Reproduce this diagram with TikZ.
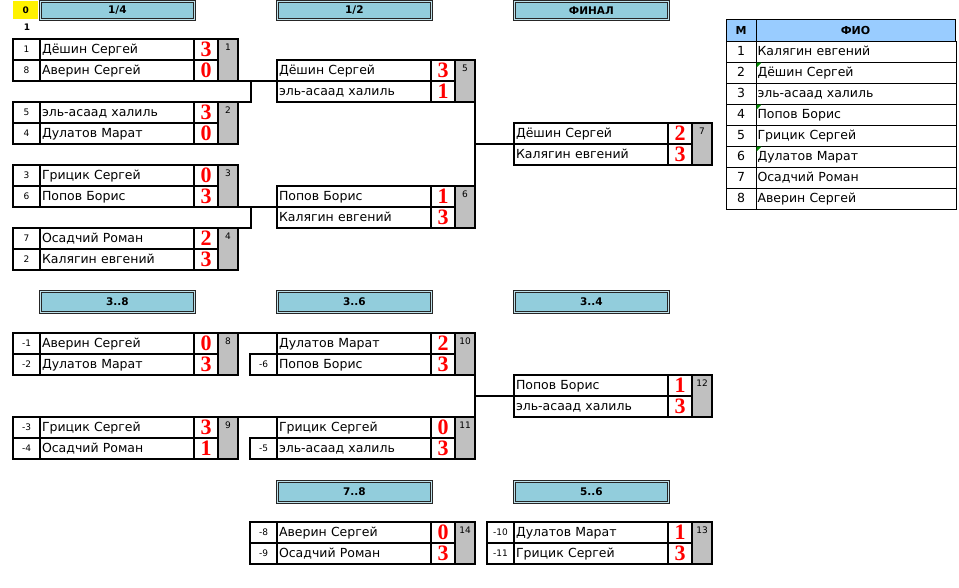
\documentclass[tikz,border=0pt]{standalone}
\usepackage{fontspec}
\setmainfont{DejaVu Sans}
\newfontfamily\scoreface{Liberation Serif}
\usetikzlibrary{calc}
\definecolor{hdr}{RGB}{146,205,220}
\definecolor{tblhdr}{RGB}{153,204,255}
\definecolor{greyc}{RGB}{192,192,192}
\definecolor{scred}{RGB}{255,0,0}
\definecolor{markg}{RGB}{0,140,0}
\tikzset{
  cellb/.style={draw, line width=2pt, inner sep=0pt, outer sep=0pt, anchor=north west, minimum height=21pt},
  seedcell/.style={cellb, fill=white, minimum width=27pt, font=\fontsize{9}{10}\selectfont},
  namecell/.style={cellb, fill=white, minimum width=154pt, text width=150pt, inner xsep=2pt, align=left, text height=10pt, text depth=2pt, font=\fontsize{12.5}{14}\selectfont},
  scorecell/.style={cellb, fill=white, minimum width=24pt, text=scred, font=\scoreface\bfseries\fontsize{22}{22}\selectfont},
  greycell/.style={cellb, fill=greyc, minimum width=20pt, minimum height=42pt},
  numtext/.style={inner sep=0pt, anchor=north, font=\fontsize{9}{10}\selectfont},
  conn/.style={line width=2pt},
  hdrbox/.style={anchor=north west, fill=hdr, draw=black!85, line width=0.8pt, double=hdr!60!white, double distance=1pt, minimum width=154pt, inner sep=0pt, font=\bfseries\fontsize{10.5}{12}\selectfont},
  yelbox/.style={anchor=north west, fill=yellow, minimum width=25pt, minimum height=18pt, inner sep=0pt, font=\bfseries\fontsize{9}{10}\selectfont},
  smallbold/.style={inner sep=0pt, font=\bfseries\fontsize{9}{10}\selectfont},
  tcell/.style={draw, line width=0.8pt, anchor=north west, inner sep=0pt, outer sep=0pt, minimum height=21pt, text height=10pt, text depth=2pt, font=\fontsize{12.5}{14}\selectfont},
  thcell/.style={tcell, fill=tblhdr, minimum height=22pt, font=\bfseries\fontsize{11}{12}\selectfont},
}
\newcommand\mmatch[8]{%
  \node[namecell] (#1a) at (#2,#3) {#4};
  \node[scorecell] (#1as) at (#2+154,#3) {#5};
  \node[namecell] (#1b) at (#2,#3+21) {#6};
  \node[scorecell] (#1bs) at (#2+154,#3+21) {#7};
  \node[greycell] (#1g) at (#2+178,#3) {};
  \node[numtext] (#1n) at ($(#1g.north)+(0,5)$) {#8};
}
\begin{document}
\begin{tikzpicture}[x=1pt,y=-1pt]
\useasboundingbox (0,0) rectangle (959,587);
\fill[white] (0,0) rectangle (959,587);

% headers
\node[yelbox] (h0) at (13,1) {0};
\node[smallbold] (r1) at (27,27) {1};
\node[hdrbox, minimum height=18pt] (h14) at (40,1) {1/4};
\node[hdrbox, minimum height=18pt] (h12) at (277,1) {1/2};
\node[hdrbox, minimum height=18pt] (hfin) at (514,1) {ФИНАЛ};
\node[hdrbox, minimum height=21pt] (h38) at (40,291) {3..8};
\node[hdrbox, minimum height=21pt] (h36) at (277,291) {3..6};
\node[hdrbox, minimum height=21pt] (h34) at (514,291) {3..4};
\node[hdrbox, minimum height=21pt] (h78) at (277,481) {7..8};
\node[hdrbox, minimum height=21pt] (h56) at (514,481) {5..6};

\coordinate (vA) at (251,0);
\coordinate (vB) at (475,0);

% round 1/4
\mmatch{m1}{40}{39}{Дёшин Сергей}{3}{Аверин Сергей}{0}{1}
\node[seedcell] (m1sa) at (13,39) {1};
\node[seedcell] (m1sb) at (13,60) {8};
\mmatch{m2}{40}{102}{эль-асаад халиль}{3}{Дулатов Марат}{0}{2}
\node[seedcell] (m2sa) at (13,102) {5};
\node[seedcell] (m2sb) at (13,123) {4};
\mmatch{m3}{40}{165}{Грицик Сергей}{0}{Попов Борис}{3}{3}
\node[seedcell] (m3sa) at (13,165) {3};
\node[seedcell] (m3sb) at (13,186) {6};
\mmatch{m4}{40}{228}{Осадчий Роман}{2}{Калягин евгений}{3}{4}
\node[seedcell] (m4sa) at (13,228) {7};
\node[seedcell] (m4sb) at (13,249) {2};

% 1/2 and final
\mmatch{m5}{277}{60}{Дёшин Сергей}{3}{эль-асаад халиль}{1}{5}
\mmatch{m6}{277}{186}{Попов Борис}{1}{Калягин евгений}{3}{6}
\mmatch{m7}{514}{123}{Дёшин Сергей}{2}{Калягин евгений}{3}{7}

% 3..8
\mmatch{m8}{40}{333}{Аверин Сергей}{0}{Дулатов Марат}{3}{8}
\node[seedcell] (m8sa) at (13,333) {-1};
\node[seedcell] (m8sb) at (13,354) {-2};
\mmatch{m9}{40}{417}{Грицик Сергей}{3}{Осадчий Роман}{1}{9}
\node[seedcell] (m9sa) at (13,417) {-3};
\node[seedcell] (m9sb) at (13,438) {-4};
\mmatch{m10}{277}{333}{Дулатов Марат}{2}{Попов Борис}{3}{10}
\node[seedcell] (m10sb) at (250,354) {-6};
\mmatch{m11}{277}{417}{Грицик Сергей}{0}{эль-асаад халиль}{3}{11}
\node[seedcell] (m11sb) at (250,438) {-5};
\mmatch{m12}{514}{375}{Попов Борис}{1}{эль-асаад халиль}{3}{12}

% 7..8 and 5..6
\mmatch{m14}{277}{522}{Аверин Сергей}{0}{Осадчий Роман}{3}{14}
\node[seedcell] (m14sa) at (250,522) {-8};
\node[seedcell] (m14sb) at (250,543) {-9};
\mmatch{m13}{514}{522}{Дулатов Марат}{1}{Грицик Сергей}{3}{13}
\node[seedcell] (m13sa) at (487,522) {-10};
\node[seedcell] (m13sb) at (487,543) {-11};

% bracket connectors
\draw[conn] (m1g.south east) -- (m5a.south west);
\draw[conn] (m2g.north east) -| (vA |- m1g.south east);
\draw[conn] (m3g.south east) -- (m6a.south west);
\draw[conn] (m4g.north east) -| (vA |- m3g.south east);
\draw[conn] (m5g.south east) -- (m6g.north east);
\draw[conn] (m7a.south west) -- (m7a.south west -| vB);
\draw[conn] (m8g.north east) -- (m10a.north west);
\draw[conn] (m9g.north east) -- (m11a.north west);
\draw[conn] (m10g.south east) -- (m11g.north east);
\draw[conn] (m12a.south west) -- (m12a.south west -| vB);

% table
\node[thcell, minimum width=30pt] (tM) at (726,19) {М};
\node[thcell, minimum width=199pt] (tF) at (756,19) {ФИО};
\foreach \i/\nm in {1/Калягин евгений,2/Дёшин Сергей,3/эль-асаад халиль,4/Попов Борис,5/Грицик Сергей,6/Дулатов Марат,7/Осадчий Роман,8/Аверин Сергей}{
  \node[tcell, minimum width=30pt] (tn\i) at (726,41+21*\i-21) {\i};
  \node[tcell, minimum width=199pt, text width=197pt, inner xsep=1.5pt, align=left] (tf\i) at (756,41+21*\i-21) {\nm};
}
\foreach \i in {2,4,6}{
  \fill[markg] ([shift={(0.5,0.5)}]tf\i.north west) -- ++(5,0) -- ++(-5,5) -- cycle;
}
\end{tikzpicture}
\end{document}
